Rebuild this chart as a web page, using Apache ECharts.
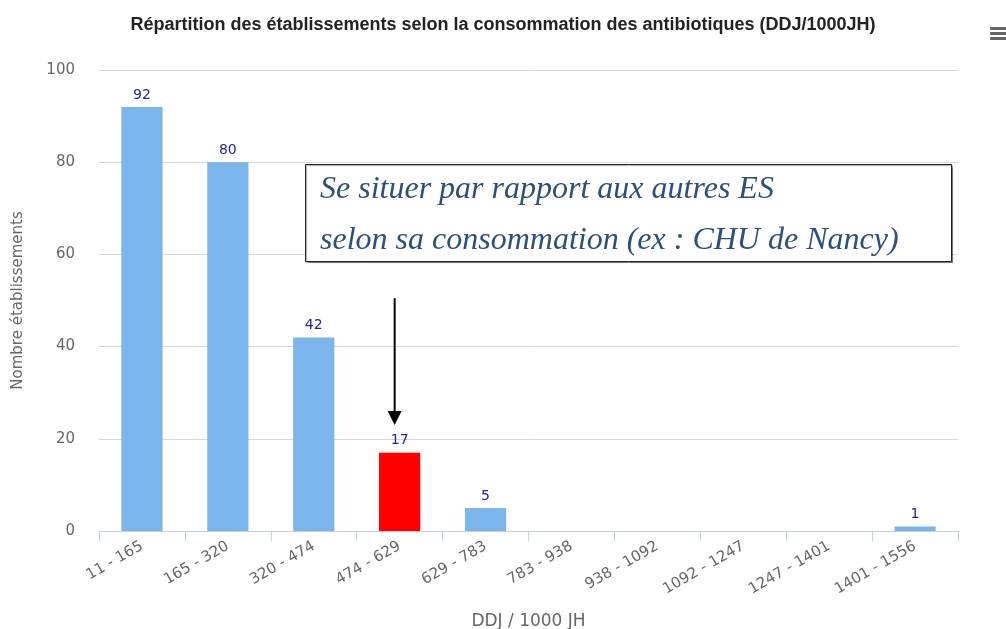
<!DOCTYPE html>
<html><head><meta charset="utf-8">
<script src="https://cdn.jsdelivr.net/npm/echarts@6/dist/echarts.min.js"></script>
<style>html,body{margin:0;padding:0;background:#fff}#c{width:1006px;height:629px}</style>
</head><body><div id="c"></div>
<script>
const categories = ['11 - 165','165 - 320','320 - 474','474 - 629','629 - 783','783 - 938','938 - 1092','1092 - 1247','1247 - 1401','1401 - 1556'];
const counts = [92, 80, 42, 17, 5, 0, 0, 0, 0, 1];
const highlightIndex = 3;
const yTicks = [0, 20, 40, 60, 80, 100];
const titleText = 'Répartition des établissements selon la consommation des antibiotiques (DDJ/1000JH)';
const noteLines = ['Se situer par rapport aux autres ES', 'selon sa consommation (ex : CHU de Nancy)'];

const chart = echarts.init(document.getElementById('c'));
const option = {
  animation: false,
  title: { text: titleText, left: 'center', top: 11,
    textStyle: { fontFamily: 'Liberation Sans', fontSize: 18, fontWeight: 'bold', color: '#222' } },
  grid: { left: 99, right: 48, top: 70, bottom: 98, outerBoundsMode: 'none', containLabel: false },
  xAxis: {
    type: 'category', data: categories,
    name: 'DDJ / 1000 JH', nameLocation: 'middle', nameGap: 82,
    nameTextStyle: { fontFamily: 'DejaVu Sans', fontSize: 17, color: '#666' },
    axisLine: { lineStyle: { color: '#C0D0E0' } },
    axisTick: { show: true, length: 10, lineStyle: { color: '#C0D0E0' } },
    axisLabel: { rotate: 30, color: '#666', fontFamily: 'DejaVu Sans', fontSize: 15, margin: 14, interval: 0 }
  },
  yAxis: {
    type: 'value', min: yTicks[0], max: yTicks[yTicks.length - 1], interval: 20,
    name: 'Nombre établissements', nameLocation: 'middle', nameGap: 73,
    nameTextStyle: { fontFamily: 'DejaVu Sans', fontSize: 15, color: '#666' },
    axisLine: { show: false }, axisTick: { show: false },
    axisLabel: { color: '#666', fontFamily: 'DejaVu Sans', fontSize: 15, margin: 24 },
    splitLine: { lineStyle: { color: '#D8D8D8' } }
  },
  series: [{
    type: 'bar', barWidth: '48%',
    data: counts.map((v, i) => ({ value: v, itemStyle: { color: i === highlightIndex ? '#FF0000' : '#7CB5EC' } })),
    label: { show: true, position: 'top', distance: 5, color: '#22229A', fontFamily: 'DejaVu Sans', fontSize: 14,
      formatter: p => p.value ? String(p.value) : '' }
  }]
};
chart.setOption(option);

// annotation: box + arrow pointing at highlighted bar
const ax = chart.convertToPixel({ xAxisIndex: 0, yAxisIndex: 0 }, [highlightIndex, 50.5]);
const tip = chart.convertToPixel({ xAxisIndex: 0, yAxisIndex: 0 }, [highlightIndex, 23]);
const arrowX = ax[0] - 5;
chart.setOption({
  graphic: [
    { type: 'rect', shape: { x: 305.5, y: 164.5, width: 646, height: 97 },
      style: { fill: '#fff', stroke: '#222', lineWidth: 1, shadowColor: 'rgba(0,0,0,0.35)', shadowOffsetX: 1, shadowOffsetY: 1, shadowBlur: 1 }, z: 10 },
    { type: 'text', x: 320, y: 190, style: { text: noteLines[0], font: 'italic 32px "Liberation Serif"', fill: '#2B4F7E', verticalAlign: 'middle' }, z: 11 },
    { type: 'text', x: 320, y: 241, style: { text: noteLines[1], font: 'italic 32px "Liberation Serif"', fill: '#2B4F7E', verticalAlign: 'middle' }, z: 11 },
    { type: 'line', shape: { x1: arrowX, y1: ax[1], x2: arrowX, y2: tip[1] - 12 }, style: { stroke: '#000', lineWidth: 2 }, z: 11 },
    { type: 'polygon', shape: { points: [[arrowX - 7, tip[1] - 14], [arrowX + 7, tip[1] - 14], [arrowX, tip[1]]] }, style: { fill: '#000' }, z: 11 },
    { type: 'rect', shape: { x: 990, y: 27, width: 18, height: 3, r: 1 }, style: { fill: '#666' } },
    { type: 'rect', shape: { x: 990, y: 32, width: 18, height: 3, r: 1 }, style: { fill: '#666' } },
    { type: 'rect', shape: { x: 990, y: 37, width: 18, height: 3, r: 1 }, style: { fill: '#666' } }
  ]
});
</script></body></html>
